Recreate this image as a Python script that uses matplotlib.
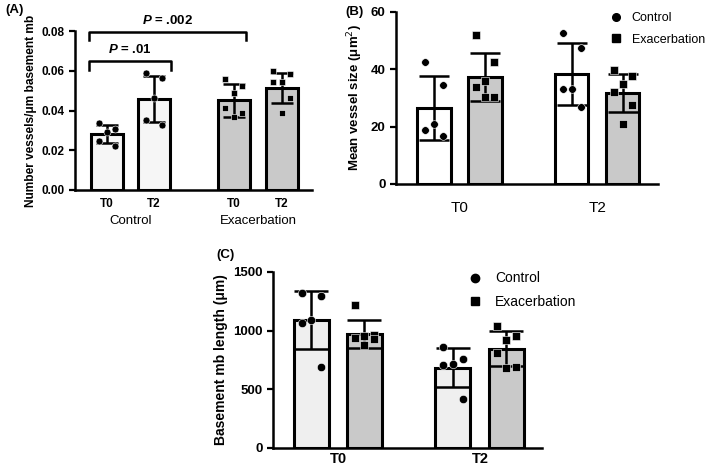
import matplotlib.pyplot as plt

plt.rcParams['font.family'] = ['Liberation Sans', 'DejaVu Sans']
plt.rcParams['mathtext.fontset'] = 'custom'
plt.rcParams['mathtext.bfit'] = 'Liberation Sans:bold:italic'

# ---- data ----
# panel A: vessels per um basement membrane
a_labels = ['T0', 'T2', 'T0', 'T2']
a_mean = [0.0283, 0.0458, 0.0452, 0.0515]
a_sd = [0.0045, 0.0118, 0.0083, 0.0075]
a_pts = [
    [0.0335, 0.0305, 0.0290, 0.0245, 0.0220],
    [0.0587, 0.0563, 0.0463, 0.0350, 0.0328],
    [0.0560, 0.0525, 0.0490, 0.0415, 0.0385, 0.0365],
    [0.0600, 0.0585, 0.0545, 0.0545, 0.0465, 0.0385],
]

# panel B: mean vessel size
b_ctrl_mean = [26.5, 38.5]
b_ctrl_sd = [11.3, 10.8]
b_exac_mean = [37.4, 31.8]
b_exac_sd = [8.4, 6.7]
b_ctrl_pts = [[42.7, 34.4, 20.8, 18.8, 16.8], [52.7, 47.3, 33.3, 33.3, 27.0]]
b_exac_pts = [[52.0, 42.7, 36.0, 34.0, 30.5, 30.5], [39.9, 37.8, 35.0, 32.0, 27.4, 20.8]]

# panel C: basement membrane length
c_ctrl_mean = [1090, 685]
c_ctrl_sd = [250, 165]
c_exac_mean = [972, 845]
c_exac_sd = [120, 150]
c_ctrl_pts = [[1324, 1298, 1091, 1068, 693], [861, 759, 716, 708, 418]]
c_exac_pts = [[1215, 960, 955, 940, 925, 880], [1040, 957, 921, 810, 693, 685]]

times = ['T0', 'T2']

LIGHT = '#f6f6f6'
GREY = '#c9c9c9'


def style_axis(ax):
    for s in ['top', 'right']:
        ax.spines[s].set_visible(False)
    for s in ['left', 'bottom']:
        ax.spines[s].set_linewidth(1.8)
    ax.tick_params(axis='y', width=1.6, length=4)
    ax.tick_params(axis='x', length=0)


def draw_group(ax, x, mean, sd, pts, color, marker, width, cap, ms):
    ax.bar(x, mean, width=width, color=color, edgecolor='black', linewidth=2.2, zorder=2)
    ax.errorbar(x, mean, yerr=sd, fmt='none', ecolor='black', elinewidth=1.8,
                capsize=cap, capthick=1.8, zorder=3)
    for i, v in enumerate(pts):
        dx = [-0.18, 0.18, 0.0][i % 3]
        ax.plot(x + dx, v, marker=marker, color='black', ms=ms, mec='white', mew=0.4,
                linestyle='none', zorder=4, clip_on=False)


fig = plt.figure(figsize=(7.09, 4.67), dpi=100)

# ---------------- panel A ----------------
axA = fig.add_axes([75 / 709, 1 - 190 / 467, 237 / 709, 159 / 467])
xa = [0, 1, 2.7, 3.72]
colsA = [LIGHT, LIGHT, GREY, GREY]
mkA = ['o', 'o', 's', 's']
for i in range(4):
    draw_group(axA, xa[i], a_mean[i], a_sd[i], a_pts[i], colsA[i], mkA[i], 0.68, 8, 5)
axA.set_xlim(-0.68, 4.36)
axA.set_ylim(0, 0.08)
axA.set_yticks([0, 0.02, 0.04, 0.06, 0.08])
axA.set_yticklabels(['0.00', '0.02', '0.04', '0.06', '0.08'], fontsize=8.5, fontweight='bold')
axA.set_xticks(xa)
axA.set_xticklabels(a_labels, fontsize=8.5, fontweight='bold')
axA.tick_params(axis='x', pad=6)
style_axis(axA)
axA.set_ylabel('Number vessels/\u03bcm basement mb', fontsize=8.6, fontweight='bold', labelpad=3)
axA.text(0.5, -0.16, 'Control', transform=axA.get_xaxis_transform(), ha='center', va='top', fontsize=9.5)
axA.text(3.21, -0.16, 'Exacerbation', transform=axA.get_xaxis_transform(), ha='center', va='top', fontsize=9.5)
# significance brackets
axA.plot([-0.38, -0.38, 1.36, 1.36], [0.0605, 0.065, 0.065, 0.0605], color='black', lw=1.8, clip_on=False)
axA.plot([-0.38, -0.38, 2.96, 2.96], [0.0755, 0.0795, 0.0795, 0.0755], color='black', lw=1.8, clip_on=False)
axA.text(0.49, 0.0675, r'$\mathbfit{P}$ = .01', ha='center', va='bottom', fontsize=9.5, fontweight='bold')
axA.text(1.30, 0.082, r'$\mathbfit{P}$ = .002', ha='center', va='bottom', fontsize=9.5, fontweight='bold')
fig.text(5 / 709, 1 - 10 / 467, '(A)', fontsize=9.5, fontweight='bold', va='center')

# ---------------- panel B ----------------
axB = fig.add_axes([396 / 709, 1 - 184 / 467, 262 / 709, 172 / 467])
xb_ctrl = [0, 2.7]
xb_exac = [1, 3.7]
for i in range(2):
    draw_group(axB, xb_ctrl[i], b_ctrl_mean[i], b_ctrl_sd[i], b_ctrl_pts[i], 'white', 'o', 0.65, 11, 5.5)
    draw_group(axB, xb_exac[i], b_exac_mean[i], b_exac_sd[i], b_exac_pts[i], GREY, 's', 0.65, 11, 5.5)
axB.set_xlim(-0.745, 4.39)
axB.set_ylim(0, 60)
axB.set_yticks([0, 20, 40, 60])
axB.set_yticklabels(['0', '20', '40', '60'], fontsize=9.5, fontweight='bold')
axB.set_xticks([0.5, 3.2])
axB.set_xticklabels(times, fontsize=11)
axB.tick_params(axis='x', pad=12)
style_axis(axB)
axB.set_ylabel('Mean vessel size (\u03bcm$^2$)', fontsize=9.5, fontweight='bold', labelpad=4)
fig.text(345 / 709, 1 - 12 / 467, '(B)', fontsize=9.5, fontweight='bold', va='center')
hB = [plt.Line2D([], [], marker='o', color='black', ls='none', ms=5.5),
      plt.Line2D([], [], marker='s', color='black', ls='none', ms=5.5)]
fig.legend(hB, ['Control', 'Exacerbation'], loc='upper left', bbox_to_anchor=(598 / 709, 1 - 1 / 467),
           frameon=False, fontsize=9, handlelength=1, handletextpad=0.8, labelspacing=0.75)

# ---------------- panel C ----------------
axC = fig.add_axes([273 / 709, 1 - 448 / 467, 269 / 709, 176 / 467])
xc_ctrl = [0, 2.67]
xc_exac = [1, 3.68]
for i in range(2):
    draw_group(axC, xc_ctrl[i], c_ctrl_mean[i], c_ctrl_sd[i], c_ctrl_pts[i], '#efefef', 'o', 0.66, 12, 6)
    draw_group(axC, xc_exac[i], c_exac_mean[i], c_exac_sd[i], c_exac_pts[i], GREY, 's', 0.66, 12, 6)
axC.set_xlim(-0.726, 4.35)
axC.set_ylim(0, 1500)
axC.set_yticks([0, 500, 1000, 1500])
axC.set_yticklabels(['0', '500', '1000', '1500'], fontsize=9.5, fontweight='bold')
axC.set_xticks([0.5, 3.18])
axC.set_xticklabels(times, fontsize=10.5, fontweight='bold')
axC.tick_params(axis='x', pad=3)
style_axis(axC)
axC.set_ylabel('Basement mb length (\u03bcm)', fontsize=10, fontweight='bold', labelpad=4)
fig.text(216 / 709, 1 - 255 / 467, '(C)', fontsize=9.5, fontweight='bold', va='center')
hC = [plt.Line2D([], [], marker='o', color='black', ls='none', ms=6),
      plt.Line2D([], [], marker='s', color='black', ls='none', ms=6)]
fig.legend(hC, ['Control', 'Exacerbation'], loc='upper left', bbox_to_anchor=(456 / 709, 1 - 259 / 467),
           frameon=False, fontsize=10, handlelength=1, handletextpad=0.9, labelspacing=0.7)

fig.savefig('out.png', dpi=100)
